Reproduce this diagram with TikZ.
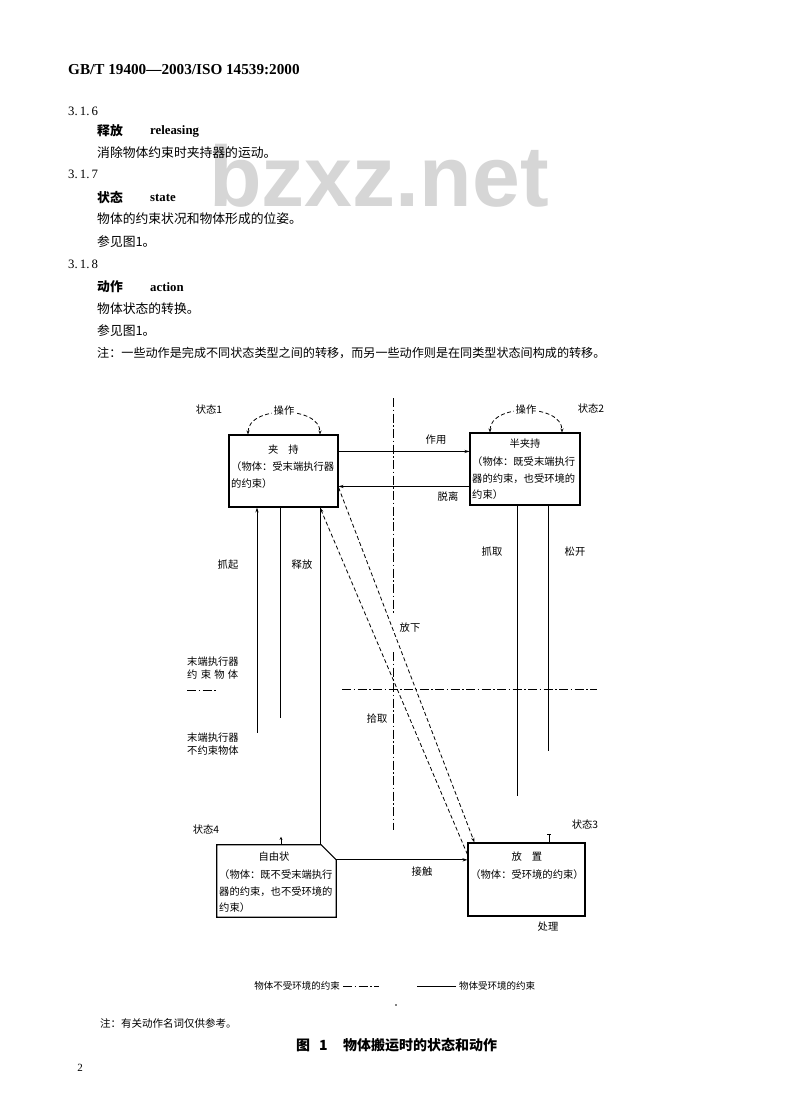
\documentclass[tikz,border=0pt]{standalone}
\usepackage{fontspec}
\setmainfont{Liberation Serif}
\newfontfamily\cjk{Noto Sans CJK SC}
\newfontfamily\wmfont{Liberation Sans}
\usetikzlibrary{arrows.meta,calc}
\begin{document}
\begin{tikzpicture}[x=1pt,y=-1pt,
  box/.style={draw,line width=1.1pt,inner sep=0pt},
  conn/.style={line width=0.8pt},
  dsh/.style={line width=0.8pt,dash pattern=on 4pt off 2.5pt},
  dd/.style={line width=0.8pt,dash pattern=on 9pt off 2.5pt on 1.5pt off 2.5pt},
  arr/.style={-{Stealth[length=5pt,width=3.2pt]}},
  twoarr/.style={{Stealth[length=4pt,width=3pt]}-{Stealth[length=4pt,width=3pt]}},
  lbl/.style={inner sep=0pt,font=\cjk\fontsize{10.3}{12}\selectfont},
  lblw/.style={lbl,anchor=west},
  body/.style={inner sep=0pt,anchor=west,font=\cjk\fontsize{12.8}{14}\selectfont},
  term/.style={inner sep=0pt,anchor=west,font=\cjk\bfseries\fontsize{12.8}{14}\selectfont},
  termen/.style={inner sep=0pt,anchor=west,font=\bfseries\fontsize{12.8}{14}\selectfont},
  num/.style={inner sep=0pt,anchor=west,font=\fontsize{12.8}{14}\selectfont},
  notef/.style={inner sep=0pt,anchor=west,font=\cjk\fontsize{12.1}{14}\selectfont},
  legf/.style={inner sep=0pt,font=\cjk\fontsize{9.5}{11}\selectfont},
  capf/.style={inner sep=0pt,anchor=west,font=\cjk\bfseries\fontsize{14}{16}\selectfont}
]
\fill[white] (0,0) rectangle (800,1106);
\useasboundingbox (0,0) rectangle (800,1106);

% watermark
\node[inner sep=0pt,font=\wmfont\bfseries\fontsize{86}{90}\selectfont,text=black!16] (wm) at (379,176) {bzxz.net};

% header and text
\node[inner sep=0pt,anchor=west,font=\bfseries\fontsize{15.2}{17}\selectfont] (hdr) at (68,70) {GB/T 19400—2003/ISO 14539:2000};
\node[num] (n1) at (68,111) {3.\,1.\,6};
\node[term] (t1) at (97,131) {释放};
\node[termen] (t1e) at (150,131) {releasing};
\node[body] (b1) at (97,153) {消除物体约束时夹持器的运动。};
\node[num] (n2) at (68,174) {3.\,1.\,7};
\node[term] (t2) at (97,198) {状态};
\node[termen] (t2e) at (150,198) {state};
\node[body] (b2) at (97,219) {物体的约束状况和物体形成的位姿。};
\node[body] (b3) at (97,242) {参见图1。};
\node[num] (n3) at (68,264) {3.\,1.\,8};
\node[term] (t3) at (97,287) {动作};
\node[termen] (t3e) at (150,287) {action};
\node[body] (b4) at (97,309) {物体状态的转换。};
\node[body] (b5) at (97,331) {参见图1。};
\node[notef] (nt) at (97,353) {注：一些动作是完成不同状态类型之间的转移，而另一些动作则是在同类型状态间构成的转移。};

% boxes
\node[box,minimum width=109pt,minimum height=72pt] (hold) at (283.5,471) {};
\node[box,minimum width=110pt,minimum height=72pt] (ban) at (525,469) {};
\node[inner sep=0pt,minimum width=119pt,minimum height=72pt] (free) at (276.5,881) {};
\draw[line width=1.2pt] (free.south west) -- (free.north west) -- ([xshift=-15pt]free.north east) -- ([yshift=-15pt]free.north east) -- (free.south east) -- cycle;
\node[box,minimum width=117pt,minimum height=73pt] (place) at (526.5,879.5) {};

% box texts
\node[lbl] (h1) at (283.5,450) {夹\hspace{10pt}持};
\node[lblw] (h2) at (231,467) {（物体：受末端执行器};
\node[lblw] (h3) at (231,484) {的约束）};
\node[lbl] (bn1) at (525,444) {半夹持};
\node[lblw] (bn2) at (472,462) {（物体：既受末端执行};
\node[lblw] (bn3) at (472,479) {器的约束，也受环境的};
\node[lblw] (bn4) at (472,495) {约束）};
\node[lbl] (f1) at (274,857) {自由状};
\node[lblw] (f2) at (219,875) {（物体：既不受末端执行};
\node[lblw] (f3) at (219,892) {器的约束，也不受环境的};
\node[lblw] (f4) at (219,908) {约束）};
\node[lbl] (p1) at (527,857) {放\hspace{10pt}置};
\node[lbl] (p2) at (527,875) {（物体：受环境的约束）};

% state labels
\node[lbl] (s1) at (209,410) {状态1};
\node[lbl] (s2) at (591,409) {状态2};
\node[lbl] (s4) at (206,830) {状态4};
\node[lbl] (s3) at (585,825) {状态3};
\node[lbl] (cl) at (548,927) {处理};

% axes (dash-dot)
\draw[dd] (393,398) -- (393,613);
\draw[dd] (393,652) -- (393,830);
\draw[dd] (342,689) -- (597,689);

% manipulation loops
\draw[dsh,twoarr] ([xshift=-35.5pt]hold.north) .. controls +(0,-29) and +(0,-29) .. ([xshift=36.5pt]hold.north);
\node[lbl,fill=white,inner sep=1.5pt] (op1) at (284,411) {操作};
\draw[dsh,twoarr] ([xshift=-35pt]ban.north) .. controls +(0,-29) and +(0,-29) .. ([xshift=37pt]ban.north);
\node[lbl,fill=white,inner sep=1.5pt] (op2) at (526,410) {操作};

% horizontal connectors between hold and ban
\coordinate (zy) at ([yshift=-17pt]hold.north east);
\draw[conn,arr] (zy) -- (zy -| ban.west);
\node[lbl] (zyl) at (436,440) {作用};
\coordinate (tl) at ([yshift=-52pt]hold.north east);
\draw[conn,arr] (tl -| ban.west) -- (tl);
\node[lbl] (tll) at (448,497) {脱离};

% verticals under hold
\coordinate (va) at ([xshift=-26.5pt]hold.south);
\draw[conn,arr] (va) ++(0,225) -- (va);
\coordinate (vb) at ([xshift=-3.5pt]hold.south);
\draw[conn] (vb) -- ++(0,210);
\coordinate (vc) at ([xshift=36.5pt]hold.south);
\draw[conn] (vc) -- (vc |- free.north);
\node[lbl] (zq) at (228,565) {抓起};
\node[lbl] (sf) at (302,565) {释放};
\draw[conn,-{Stealth[length=3pt,width=3pt]}] ([xshift=4.5pt]free.north) -- ++(0,-8);

% verticals under ban
\coordinate (vd) at ([xshift=-8pt]ban.south);
\draw[conn] (vd) -- ++(0,290);
\coordinate (ve) at ([xshift=23pt]ban.south);
\draw[conn] (ve) -- ++(0,245);
\node[lbl] (zql) at (492,552) {抓取};
\node[lbl] (skl) at (575,552) {松开};
\draw[conn,-{Bar[width=4pt]}] ([xshift=22.5pt]place.north) -- ++(0,-8);

% diagonals
\draw[dsh,arr] ([yshift=-12pt]place.north west) -- (vc);
\draw[dsh,arr] ([yshift=-53pt]hold.north east) -- ([xshift=7pt]place.north west);
\node[lbl] (fx) at (410,628) {放下};
\node[lbl] (sq) at (377,719) {拾取};

% bottom connector
\coordinate (jc) at ([yshift=-15pt]free.north east);
\draw[conn,arr] (jc) -- (jc -| place.west);
\node[lbl] (jcl) at (422,872) {接触};

% left-margin legend
\node[lblw] (m1) at (187,662) {末端执行器};
\node[lblw] (m2) at (187,675) {\makebox[51pt][s]{约\hfill 束\hfill 物\hfill 体}};
\draw[dd] (187,690) -- (217,690);
\node[lblw] (m3) at (187,738) {末端执行器};
\node[lblw] (m4) at (187,751) {不约束物体};

% bottom legend
\node[legf,anchor=east] (lg1) at (340,986) {物体不受环境的约束};
\draw[dd] (lg1.east) ++(3,0) -- ++(36,0);
\node[legf,anchor=west] (lg2) at (459,986) {物体受环境的约束};
\draw[conn] (lg2.west) ++(-3,0) -- ++(-39,0);
\fill (396,1005) circle (0.8pt);

% notes and caption
\node[notef,font=\cjk\fontsize{10.5}{12}\selectfont] (nt2) at (100,1023) {注：有关动作名词仅供参考。};
\node[capf] (c1) at (296,1045) {图\hspace{9pt}1};
\node[capf] (c2) at (343,1045) {物体搬运时的状态和动作};
\node[inner sep=0pt,font=\fontsize{11}{13}\selectfont] (pg) at (80,1068) {2};
\end{tikzpicture}
\end{document}
